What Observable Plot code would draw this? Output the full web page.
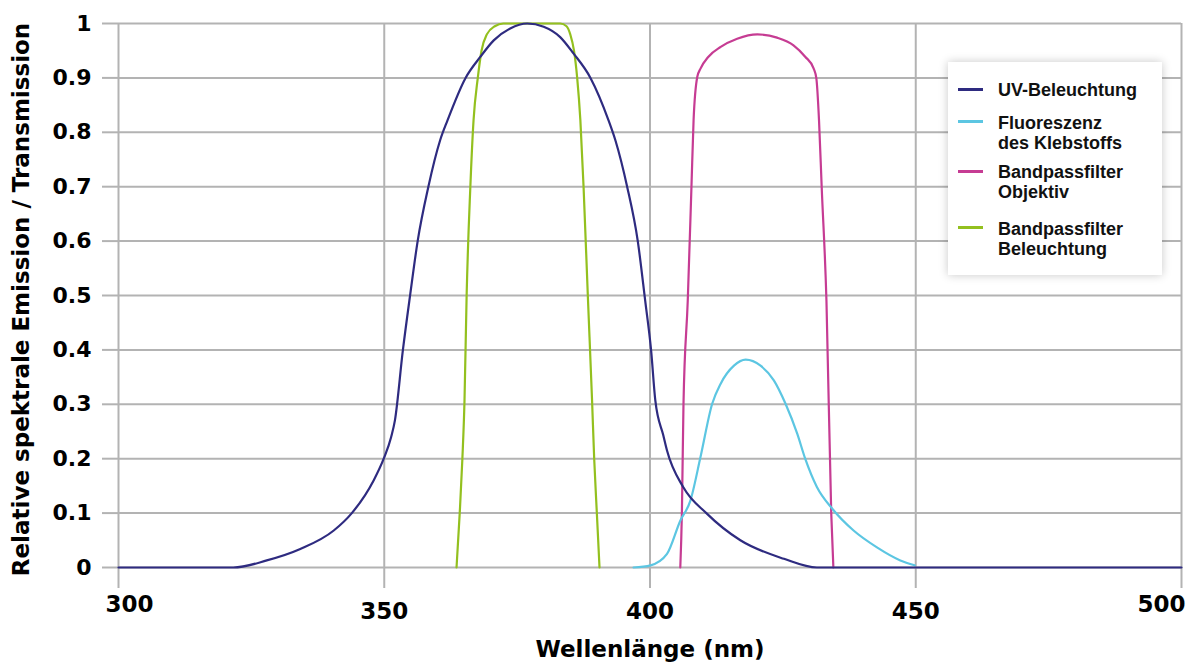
<!DOCTYPE html>
<html><head><meta charset="utf-8">
<script src="https://cdn.jsdelivr.net/npm/d3@7"></script>
<script src="https://cdn.jsdelivr.net/npm/@observablehq/plot@0.6"></script>
<style>
body{margin:0;background:#fff;}
#wrap{position:relative;width:1197px;height:663px;overflow:hidden;}
#wrap svg{overflow:visible;}
#legend{position:absolute;left:948px;top:62px;width:214px;height:213px;background:#fff;box-shadow:0 0 9px rgba(0,0,0,0.22);font-family:"Liberation Sans",Arial,sans-serif;font-weight:bold;font-size:18px;color:#111;}
.sw{position:absolute;left:10px;width:25px;height:3.5px;}
.lab{position:absolute;left:50px;line-height:20px;white-space:nowrap;}
</style>
</head><body>
<div id="wrap"><div id="legend"></div></div>
<script>
// Series data (wavelength in nm, relative value)
const uvNm  = [300,321.6,327.9,334.2,340.5,343.9,348.0,349.9,351.3,352.0,353.5,354.9,356.3,358.3,360.5,361.9,365.3,368.1,370.6,373.7,376.9,380.0,383.1,385.6,388.8,392.2,393.5,395.7,397.7,399.1,400.2,401.0,402.5,403.2,406.3,410.7,417.0,425.2,431.4,500];
const uvVal = [0,0,0.013,0.034,0.068,0.1,0.16,0.2,0.24,0.27,0.399,0.503,0.601,0.7,0.785,0.822,0.9,0.939,0.969,0.991,1.0,0.994,0.975,0.945,0.9,0.822,0.785,0.7,0.6,0.49,0.4,0.307,0.243,0.215,0.147,0.099,0.05,0.016,0,0];

const fluoNm  = [396.9,400.1,403.2,405.7,407.6,409.5,411.7,413.3,415.8,418.0,420.8,423.3,425.5,427.7,429.2,431.4,434.3,438.3,442.7,447.1,449.8];
const fluoVal = [0,0.004,0.025,0.086,0.123,0.203,0.301,0.338,0.371,0.382,0.371,0.344,0.301,0.246,0.2,0.148,0.108,0.068,0.037,0.013,0.004];

const objNm  = [405.7,406.0,406.3,407.1,407.8,408.2,408.9,409.5,411.0,413.3,416.4,420.2,423.9,427.0,429.2,430.8,431.3,431.8,432.3,433.2,434.1,434.5];
const objVal = [0,0.1,0.3,0.49,0.7,0.822,0.902,0.917,0.939,0.957,0.972,0.98,0.974,0.96,0.939,0.917,0.899,0.822,0.7,0.49,0.1,0];

const belNm  = [363.6,364.2,364.7,365.1,365.5,366.2,366.8,367.6,368.3,369.3,370.8,372.4,377.5,383.1,384.3,385.0,385.7,386.3,386.9,387.5,388.3,389.1,389.5,390.0,390.5];
const belVal = [0,0.1,0.2,0.307,0.5,0.7,0.822,0.9,0.95,0.98,0.995,1.0,1.0,1.0,0.995,0.98,0.95,0.9,0.822,0.7,0.5,0.307,0.2,0.1,0];

const seriesNames  = ["UV-Beleuchtung","Fluoreszenz des Klebstoffs","Bandpassfilter Objektiv","Bandpassfilter Beleuchtung"];
const seriesColors = ["#2e2b80","#5cc6e2","#c63c93","#93c01f"];
const legendLines  = [["UV-Beleuchtung"],["Fluoreszenz","des Klebstoffs"],["Bandpassfilter","Objektiv"],["Bandpassfilter","Beleuchtung"]];

const xTicks = [300,350,400,450,500];
const yTicks = [0,0.1,0.2,0.3,0.4,0.5,0.6,0.7,0.8,0.9,1];
const xTitle = "Wellenlänge (nm)";
const yTitle = "Relative spektrale Emission / Transmission";

function toRows(nm, val, name){ return nm.map((d,i)=>({nm:d, v:val[i], series:name})); }
const rows = [
  toRows(uvNm, uvVal, seriesNames[0]),
  toRows(fluoNm, fluoVal, seriesNames[1]),
  toRows(objNm, objVal, seriesNames[2]),
  toRows(belNm, belVal, seriesNames[3])
];
const drawOrder = [3,2,1,0];

const gridColor = "#b3b3b3";
const firstTick = xTicks[0], lastTick = xTicks[xTicks.length-1];
const chart = Plot.plot({
  width:1197, height:663,
  marginLeft:118, marginRight:16, marginTop:23, marginBottom:96,
  style:{fontFamily:"'DejaVu Sans', sans-serif", fontWeight:"bold", color:"#000", background:"#fff", overflow:"visible"},
  x:{domain:[300,500]},
  y:{domain:[0,1]},
  marks:[
    Plot.gridX(xTicks,{stroke:gridColor, strokeOpacity:1, strokeWidth:2}),
    Plot.gridY(yTicks,{stroke:gridColor, strokeOpacity:1, strokeWidth:2}),
    Plot.axisX(xTicks,{tickSize:21, tickPadding:14, stroke:gridColor, strokeWidth:2, strokeOpacity:1, fill:"#000", fontSize:23, label:null,
      tickFormat:d => (d===firstTick || d===lastTick) ? "" : String(d)}),
    Plot.text([firstTick], {x:d=>d, frameAnchor:"bottom", dy:44, dx:11, fontSize:23, fill:"#000", text:d=>String(d)}),
    Plot.text([lastTick], {x:d=>d, frameAnchor:"bottom", dy:44, dx:-20, fontSize:23, fill:"#000", text:d=>String(d)}),
    Plot.axisY(yTicks,{tickSize:16, tickPadding:11, stroke:gridColor, strokeWidth:2, strokeOpacity:1, fill:"#000", fontSize:22, label:null, tickFormat:d=>String(+d.toFixed(1))}),
    ...drawOrder.map(i => Plot.line(rows[i], {x:"nm", y:"v", stroke:seriesColors[i], strokeWidth:2.2, curve:"monotone-x"})),
    Plot.text([xTitle], {frameAnchor:"bottom", dy:89, fontSize:23, fill:"#000", text:d=>d}),
    Plot.text([yTitle], {frameAnchor:"left", textAnchor:"middle", rotate:-90, dx:-97, dy:4, fontSize:23, fill:"#000", text:d=>d})
  ]
});
const wrap = document.getElementById("wrap");
wrap.insertBefore(chart, wrap.firstChild);

// Legend
const legendTops = [18, 51, 99.5, 156.5];
const swatchY = [27.7, 59.7, 109.7, 165.7];
const legend = document.getElementById("legend");
legendLines.forEach((lines,i)=>{
  const sw = document.createElement("div");
  sw.className = "sw";
  sw.style.top = (swatchY[i]-1.75)+"px";
  sw.style.background = seriesColors[i];
  legend.appendChild(sw);
  const lab = document.createElement("div");
  lab.className = "lab";
  lab.style.top = legendTops[i]+"px";
  lab.innerHTML = lines.join("<br>");
  legend.appendChild(lab);
});
</script>
</body></html>
